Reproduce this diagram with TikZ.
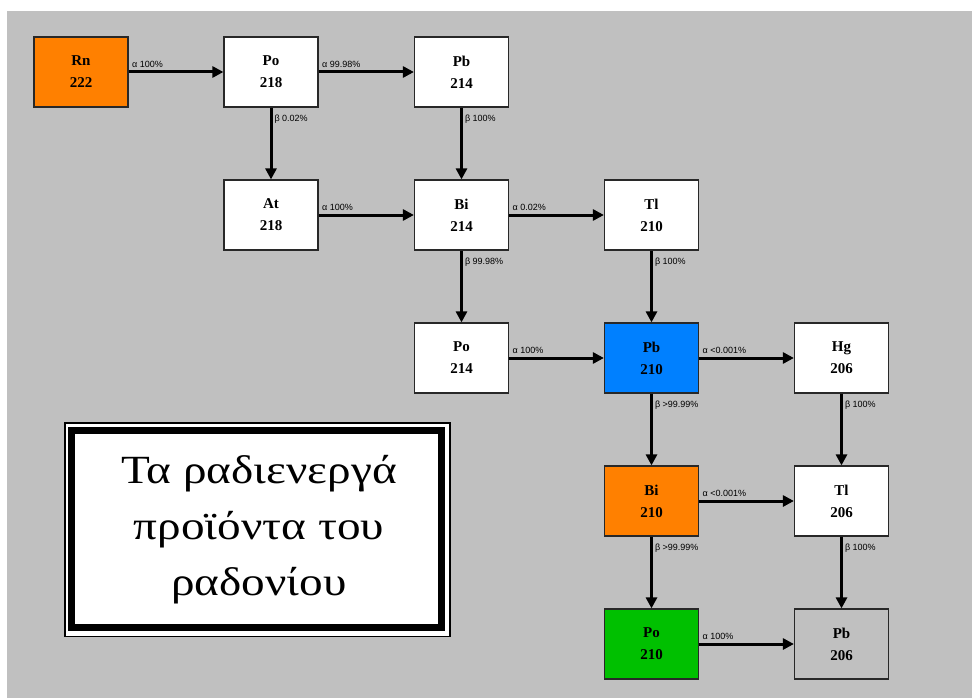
\documentclass[tikz,border=0pt]{standalone}
\usepackage{fontspec}
\usepackage{graphicx}
\setmainfont{Liberation Serif}
\newfontfamily\lblfont{Liberation Sans}
\usetikzlibrary{arrows.meta}
\definecolor{bggray}{RGB}{192,192,192}
\definecolor{rnorange}{RGB}{255,128,0}
\definecolor{pbblue}{RGB}{0,128,255}
\definecolor{pogreen}{RGB}{0,192,0}
\definecolor{boxline}{RGB}{40,40,40}
\tikzset{
  nuc/.style={draw=boxline, line width=1.2pt, fill=white, minimum width=94pt, minimum height=70pt,
    inner sep=0pt, align=center, font=\fontsize{15}{22}\selectfont\bfseries},
  arr/.style={line width=3pt, -{Triangle[length=11pt,width=11pt]}},
  hlab/.style={pos=0, anchor=south west, inner sep=0pt, xshift=2pt, yshift=3pt, font=\lblfont\fontsize{9}{10}\selectfont},
  vlab/.style={pos=0, anchor=north west, inner sep=0pt, xshift=2pt, yshift=-5.5pt, font=\lblfont\fontsize{9}{10}\selectfont}
}
\begin{document}
\begin{tikzpicture}[x=1pt,y=-1pt]
\useasboundingbox (0,0) rectangle (972,698);
\fill[bggray] (7,11) rectangle (972,698);
% nodes
\node[nuc, fill=rnorange] (rn222) at (81,72) {Rn\\222};
\node[nuc] (po218) at (271,72) {Po\\218};
\node[nuc] (pb214) at (461.5,72) {Pb\\214};
\node[nuc] (at218) at (271,215) {At\\218};
\node[nuc] (bi214) at (461.5,215) {Bi\\214};
\node[nuc] (tl210) at (651.5,215) {Tl\\210};
\node[nuc] (po214) at (461.5,358) {Po\\214};
\node[nuc, fill=pbblue] (pb210) at (651.5,358) {Pb\\210};
\node[nuc] (hg206) at (841.5,358) {Hg\\206};
\node[nuc, fill=rnorange] (bi210) at (651.5,501) {Bi\\210};
\node[nuc] (tl206) at (841.5,501) {Tl\\206};
\node[nuc, fill=pogreen] (po210) at (651.5,644) {Po\\210};
\node[nuc, fill=bggray] (pb206) at (841.5,644) {Pb\\206};
% connectors
\draw[arr] (rn222) -- (po218) node[hlab] (l1) {α 100\%};
\draw[arr] (po218) -- (pb214) node[hlab] (l2) {α 99.98\%};
\draw[arr] (po218) -- (at218) node[vlab] (l3) {β 0.02\%};
\draw[arr] (pb214) -- (bi214) node[vlab] (l4) {β 100\%};
\draw[arr] (at218) -- (bi214) node[hlab] (l5) {α 100\%};
\draw[arr] (bi214) -- (tl210) node[hlab] (l6) {α 0.02\%};
\draw[arr] (bi214) -- (po214) node[vlab] (l7) {β 99.98\%};
\draw[arr] (tl210) -- (pb210) node[vlab] (l8) {β 100\%};
\draw[arr] (po214) -- (pb210) node[hlab] (l9) {α 100\%};
\draw[arr] (pb210) -- (hg206) node[hlab] (l10) {α <0.001\%};
\draw[arr] (pb210) -- (bi210) node[vlab] (l11) {β >99.99\%};
\draw[arr] (hg206) -- (tl206) node[vlab] (l12) {β 100\%};
\draw[arr] (bi210) -- (tl206) node[hlab] (l13) {α <0.001\%};
\draw[arr] (bi210) -- (po210) node[vlab] (l14) {β >99.99\%};
\draw[arr] (tl206) -- (pb206) node[vlab] (l15) {β 100\%};
\draw[arr] (po210) -- (pb206) node[hlab] (l16) {α 100\%};
% title box
\draw[fill=white, line width=1.5pt] (64.75,422.75) rectangle (449.75,636.25);
\draw[line width=7pt] (71.5,430.5) rectangle (441.5,627);
\node[inner sep=0pt] (title) at (259,528)
  {\scalebox{1.18}[1]{\fontsize{40}{56}\selectfont\begin{tabular}{@{}c@{}}Τα ραδιενεργά\\προϊόντα του\\ραδονίου\end{tabular}}};
\end{tikzpicture}
\end{document}
